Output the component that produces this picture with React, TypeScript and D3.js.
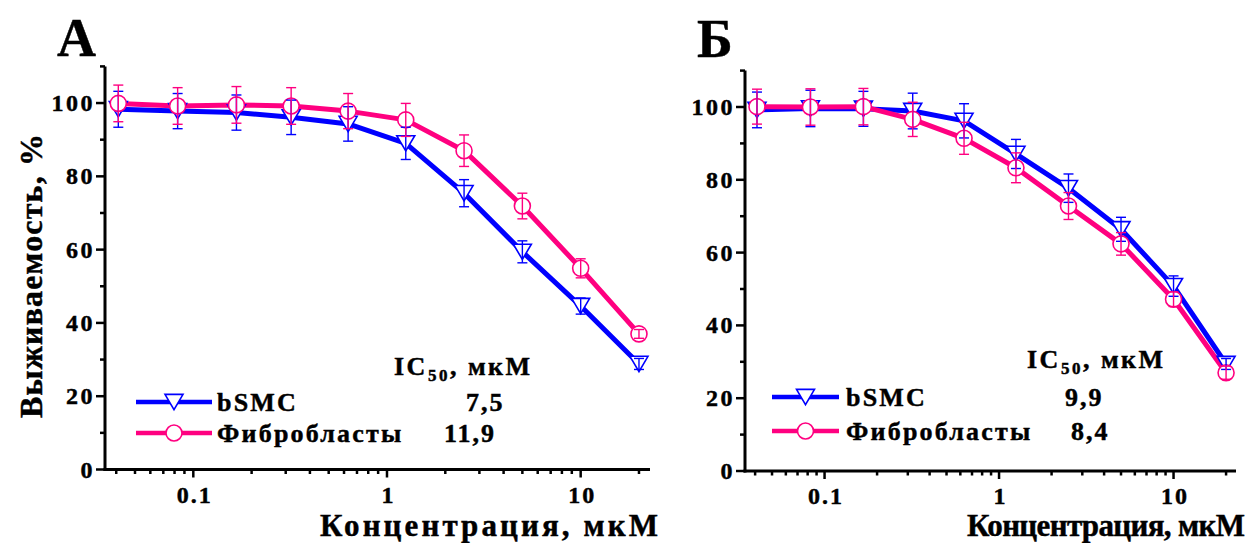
import React from "react";
import * as d3 from "d3";

// ---------- data ----------
const CONC = [0.041, 0.083, 0.167, 0.32, 0.63, 1.25, 2.5, 5, 10, 20];

const A_BSMC = [98.3, 97.8, 97.4, 96.1, 94.3, 89.0, 75.4, 59.4, 44.6, 28.8];
const A_BSMC_ERR = [4.9, 4.8, 4.8, 4.7, 4.7, 4.4, 3.7, 3.0, 2.2, 1.5];
const A_FIB = [99.9, 99.2, 99.5, 99.2, 97.8, 95.4, 87.0, 71.9, 54.9, 37.0];
const A_FIB_ERR = [5.0, 5.0, 5.0, 5.0, 4.8, 4.5, 4.3, 3.5, 2.6, 1.2];

const B_BSMC = [99.2, 99.6, 99.5, 98.9, 96.2, 87.1, 77.7, 66.4, 50.8, 29.4];
const B_BSMC_ERR = [4.9, 5.0, 4.8, 4.9, 4.7, 4.0, 3.9, 3.3, 2.8, 1.5];
const B_FIB = [100.1, 100.0, 100.1, 96.6, 91.4, 83.3, 72.8, 62.4, 47.2, 27.0];
const B_FIB_ERR = [4.8, 5.0, 5.0, 4.7, 4.4, 4.1, 3.7, 3.1, 2.0, 1.8];

const SERIES_NAMES = ["bSMC", "Фибробласты"];
const A_IC50 = ["7,5", "11,9"];
const B_IC50 = ["9,9", "8,4"];
const PANEL_TITLES = ["А", "Б"];

const X_MAJOR = [0.1, 1, 10];
const X_MAJOR_LABELS = ["0.1", "1", "10"];
const X_MINOR = [0.04, 0.05, 0.06, 0.07, 0.08, 0.09, 0.2, 0.3, 0.4, 0.5, 0.6, 0.7, 0.8, 0.9, 2, 3, 4, 5, 6, 7, 8, 9, 20];
const Y_MAJOR = [0, 20, 40, 60, 80, 100];
const Y_MINOR = [10, 30, 50, 70, 90, 110];

const X_TITLE = "Концентрация, мкМ";
const Y_TITLE = "Выживаемость, %";

const BLUE = "#0000FF";
const PINK = "#FF0080";
const FONT = "'Liberation Serif', 'Times New Roman', serif";

type PanelCfg = {
  x0: number; x1: number; y0: number; y1: number;
  bsmc: number[]; bsmcErr: number[]; fib: number[]; fibErr: number[];
  ic50: string[]; title: string;
  titlePos: [number, number];
  legendX: number; legendY: number[]; legendW: number; legendTextX: number;
  icX: number; icY: number; valX: number[];
  xTitleX: number; xTitleLen: number;
  showY: boolean;
};

const tri = (r: number) => `M${-r},${-r * 0.85}L${r},${-r * 0.85}L0,${r * 0.85}Z`;

function Panel({ c }: { c: PanelCfg }) {
  const x = d3.scaleLog().domain([0.035, 22.8]).range([c.x0, c.x1]);
  const y = d3.scaleLinear().domain([0, 110]).range([c.y0, c.y1]);
  const line = d3.line<number>().x((_, i) => x(CONC[i])).y((v) => y(v));
  const series = [
    { vals: c.bsmc, err: c.bsmcErr, color: BLUE, kind: "tri" },
    { vals: c.fib, err: c.fibErr, color: PINK, kind: "circ" },
  ];
  const marker = (kind: string, color: string, cx: number, cy: number, key: any) =>
    kind === "tri" ? (
      <path key={key} d={tri(9)} transform={`translate(${cx},${cy})`} fill="#fff" stroke={color} strokeWidth={1.6} />
    ) : (
      <circle key={key} cx={cx} cy={cy} r={8} fill="#fff" stroke={color} strokeWidth={1.6} />
    );
  const txt = { stroke: "#000", strokeWidth: 0.45 };
  return (
    <g fontFamily={FONT} fontWeight="bold">
      <text x={c.titlePos[0]} y={c.titlePos[1]} fontSize={54} {...txt}>{c.title}</text>
      {series.map((s, si) => (
        <path key={"l" + si} d={line(s.vals) || ""} fill="none" stroke={s.color} strokeWidth={5} strokeLinejoin="round" />
      ))}
      {series.map((s, si) => s.vals.map((v, i) => marker(s.kind, s.color, x(CONC[i]), y(v), `m${si}-${i}`)))}
      {series.map((s, si) =>
        s.vals.map((v, i) => {
          const cx = x(CONC[i]);
          const t = y(v + s.err[i]);
          const b = y(v - s.err[i]);
          return (
            <g key={`e${si}-${i}`} stroke={s.color} strokeWidth={1.4}>
              <line x1={cx} x2={cx} y1={t} y2={b} />
              <line x1={cx - 5} x2={cx + 5} y1={t} y2={t} />
              <line x1={cx - 5} x2={cx + 5} y1={b} y2={b} />
            </g>
          );
        })
      )}
      <line x1={c.x0} x2={c.x0} y1={c.y0 + 1.5} y2={c.y1} stroke="#000" strokeWidth={3} />
      <line x1={c.x0 - 1.5} x2={c.x1} y1={c.y0} y2={c.y0} stroke="#000" strokeWidth={3} />
      {Y_MAJOR.map((v) => (
        <g key={"ym" + v}>
          <line x1={c.x0 - 9} x2={c.x0} y1={y(v)} y2={y(v)} stroke="#000" strokeWidth={2.5} />
          <text x={c.x0 - 10} y={y(v) + 8} fontSize={24} textAnchor="end" letterSpacing={2.5} {...txt}>{v}</text>
        </g>
      ))}
      {Y_MINOR.map((v) => (
        <line key={"yn" + v} x1={c.x0 - 5} x2={c.x0} y1={y(v)} y2={y(v)} stroke="#000" strokeWidth={2.5} />
      ))}
      {X_MAJOR.map((v, i) => (
        <g key={"xm" + v}>
          <line x1={x(v)} x2={x(v)} y1={c.y0} y2={c.y0 + 8} stroke="#000" strokeWidth={2.5} />
          <text x={x(v) + 1.5} y={c.y0 + 33} fontSize={24} textAnchor="middle" letterSpacing={2} {...txt}>{X_MAJOR_LABELS[i]}</text>
        </g>
      ))}
      {X_MINOR.map((v) => (
        <line key={"xn" + v} x1={x(v)} x2={x(v)} y1={c.y0} y2={c.y0 + 4.5} stroke="#000" strokeWidth={2.5} />
      ))}
      <text x={c.xTitleX} y={536} fontSize={31} textLength={c.xTitleLen} lengthAdjust="spacing" {...txt}>{X_TITLE}</text>
      {c.showY && (
        <text transform="translate(42,276) rotate(-90)" fontSize={32} textAnchor="middle" textLength={284} lengthAdjust="spacing" {...txt}>{Y_TITLE}</text>
      )}
      <text x={c.icX} y={c.icY} fontSize={26} letterSpacing={2.5} {...txt}>
        IC<tspan fontSize={17} dy={6}>50</tspan><tspan dy={-6}>, мкМ</tspan>
      </text>
      {series.map((s, si) => (
        <g key={"lg" + si}>
          <line x1={c.legendX} x2={c.legendX + c.legendW} y1={c.legendY[si]} y2={c.legendY[si]} stroke={s.color} strokeWidth={4.5} />
          {marker(s.kind, s.color, c.legendX + c.legendW / 2, c.legendY[si], "lm" + si)}
          <text x={c.legendTextX} y={c.legendY[si] + 9} fontSize={26} letterSpacing={2.2} {...txt}>{SERIES_NAMES[si]}</text>
          <text x={c.valX[si]} y={c.legendY[si] + 9} fontSize={26} letterSpacing={2} {...txt}>{c.ic50[si]}</text>
        </g>
      ))}
    </g>
  );
}

const PANEL_A: PanelCfg = {
  x0: 105, x1: 650, y0: 469.5, y1: 66.4,
  bsmc: A_BSMC, bsmcErr: A_BSMC_ERR, fib: A_FIB, fibErr: A_FIB_ERR,
  ic50: A_IC50, title: PANEL_TITLES[0], titlePos: [57, 56],
  legendX: 136, legendY: [402, 433], legendW: 76, legendTextX: 217,
  icX: 394, icY: 375, valX: [466, 444],
  xTitleX: 320, xTitleLen: 338, showY: true,
};

const PANEL_B: PanelCfg = {
  x0: 745, x1: 1236, y0: 471, y1: 70.6,
  bsmc: B_BSMC, bsmcErr: B_BSMC_ERR, fib: B_FIB, fibErr: B_FIB_ERR,
  ic50: B_IC50, title: PANEL_TITLES[1], titlePos: [697, 57],
  legendX: 772, legendY: [397, 431], legendW: 67, legendTextX: 846,
  icX: 1027, icY: 368, valX: [1065, 1071],
  xTitleX: 967, xTitleLen: 278, showY: false,
};

export default function App() {
  return (
    <svg width={1247} height={543} style={{ position: "absolute", left: 0, top: 0, background: "#fff" }}>
      <rect width={1247} height={543} fill="#fff" />
      <Panel c={PANEL_A} />
      <Panel c={PANEL_B} />
    </svg>
  );
}
